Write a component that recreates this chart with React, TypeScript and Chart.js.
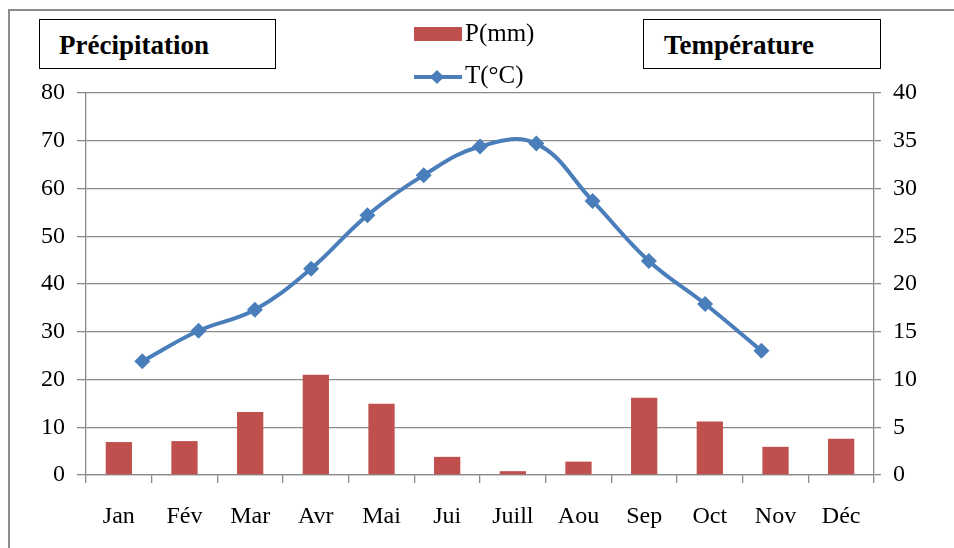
import React, { useEffect, useRef } from "react";
import { Chart, registerables } from "chart.js";

Chart.register(...registerables);

const months = ["Jan", "Fév", "Mar", "Avr", "Mai", "Jui", "Juill", "Aou", "Sep", "Oct", "Nov", "Déc"];
const precipitation = [6.9, 7.1, 13.2, 21.0, 14.9, 3.8, 0.8, 2.8, 16.2, 11.2, 5.9, 7.6];
const temperature = [11.9, 15.1, 17.3, 21.6, 27.2, 31.4, 34.4, 34.7, 28.7, 22.4, 17.9, 13.0];
const leftTicks = { min: 0, max: 80, step: 10 };
const rightTicks = { min: 0, max: 40, step: 5 };

const FONT = "'Liberation Serif', 'Times New Roman', serif";
const RED = "#C0504D";
const BLUE = "#4A7EBB";
const GRID = "#8a8a8a";

export default function App() {
  const ref = useRef<HTMLCanvasElement | null>(null);

  useEffect(() => {
    document.body.style.margin = "0";
    const ctx = ref.current!;
    const chart = new Chart(ctx, {
      type: "bar",
      data: {
        labels: months,
        datasets: [
          {
            type: "bar",
            label: "P(mm)",
            data: precipitation,
            xAxisID: "x",
            yAxisID: "y",
            backgroundColor: RED,
            barPercentage: 0.4,
            categoryPercentage: 1,
            grouped: false,
            order: 2,
          },
          {
            type: "line",
            label: "T(°C)",
            data: temperature.map((t, i) => ({ x: i + 1, y: t })),
            xAxisID: "x2",
            yAxisID: "y2",
            borderColor: BLUE,
            backgroundColor: BLUE,
            borderWidth: 4,
            tension: 0.4,
            pointStyle: "rectRot",
            pointRadius: 8,
            pointBackgroundColor: BLUE,
            pointBorderColor: BLUE,
            pointBorderWidth: 0,
            order: 1,
          } as any,
        ],
      },
      options: {
        animation: false,
        responsive: true,
        maintainAspectRatio: false,
        layout: { padding: { top: 93, left: 0, right: 0, bottom: 0 } },
        plugins: { legend: { display: false }, tooltip: { enabled: false } },
        scales: {
          x: {
            type: "category",
            offset: true,
            grid: { drawOnChartArea: false, drawTicks: true, tickLength: 8, color: GRID, lineWidth: 1.3, offset: true },
            border: { color: GRID, width: 1.3 },
            ticks: { color: "#000", font: { family: FONT, size: 24 }, padding: 19, maxRotation: 0, autoSkip: false },
            afterFit: (s: any) => { s.height = 73; },
          },
          x2: {
            type: "linear",
            min: 0,
            max: 14,
            offset: false,
            grid: { offset: false },
            ticks: { stepSize: 1 },
            display: false,
          },
          y: {
            position: "left",
            min: leftTicks.min,
            max: leftTicks.max,
            grid: { color: GRID, lineWidth: 1.3, tickLength: 9 },
            border: { color: GRID, width: 1.3 },
            ticks: { stepSize: leftTicks.step, color: "#000", font: { family: FONT, size: 24 }, padding: 12 },
            afterFit: (s: any) => { s.width = 86; },
          },
          y2: {
            position: "right",
            min: rightTicks.min,
            max: rightTicks.max,
            grid: { drawOnChartArea: false, color: GRID, lineWidth: 1.3, tickLength: 7 },
            border: { color: GRID, width: 1.3 },
            ticks: { stepSize: rightTicks.step, color: "#000", font: { family: FONT, size: 24 }, padding: 12 },
            afterFit: (s: any) => { s.width = 80; },
          },
        },
      },
    });
    return () => chart.destroy();
  }, []);

  const box: React.CSSProperties = {
    position: "absolute",
    top: 19,
    height: 48,
    border: "1.5px solid #000",
    background: "#fff",
    fontFamily: FONT,
    fontWeight: "bold",
    fontSize: 27,
    lineHeight: "50px",
    boxSizing: "content-box",
    color: "#000",
  };
  const legendText: React.CSSProperties = {
    position: "absolute",
    left: 465,
    fontFamily: FONT,
    fontSize: 25,
    lineHeight: "28px",
    color: "#000",
  };

  return (
    <div style={{ position: "relative", width: 954, height: 548, overflow: "hidden", background: "#fff" }}>
      <div
        style={{
          position: "absolute",
          left: 8,
          top: 9,
          width: 1000,
          height: 600,
          borderLeft: "2px solid #8c8c8c",
          borderTop: "2px solid #8c8c8c",
        }}
      />
      <div style={{ position: "absolute", left: 0, top: 0, width: 954, height: 548 }}>
        <canvas ref={ref} />
      </div>
      <div style={{ ...box, left: 39, width: 235 }}>
        <span style={{ marginLeft: 19 }}>Précipitation</span>
      </div>
      <div style={{ ...box, left: 643, width: 236 }}>
        <span style={{ marginLeft: 20 }}>Température</span>
      </div>
      <div style={{ position: "absolute", left: 414, top: 27, width: 48, height: 14, background: RED }} />
      <div style={{ ...legendText, top: 19 }}>P(mm)</div>
      <div style={{ position: "absolute", left: 414, top: 75, width: 48, height: 4, background: BLUE }} />
      <div
        style={{
          position: "absolute",
          left: 432,
          top: 72,
          width: 10,
          height: 10,
          background: BLUE,
          transform: "rotate(45deg)",
        }}
      />
      <div style={{ ...legendText, top: 61 }}>T(°C)</div>
    </div>
  );
}
